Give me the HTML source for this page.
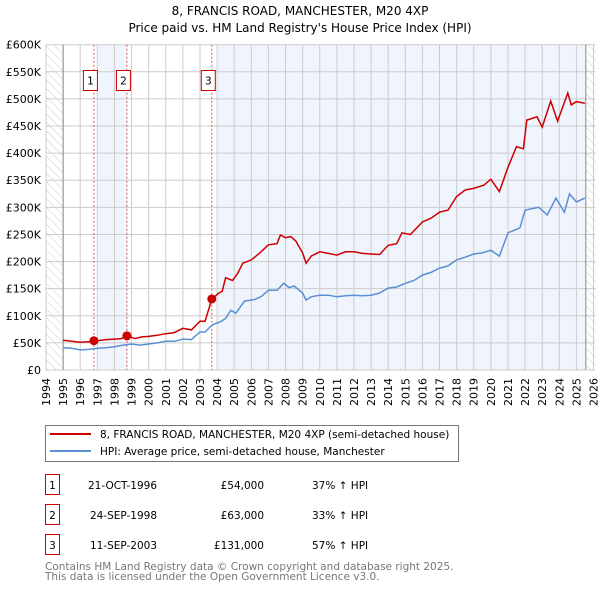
<!DOCTYPE html>
<html><head><meta charset="utf-8">
<style>
html,body{margin:0;padding:0;background:#fff;}
body{width:600px;height:590px;overflow:hidden;font-family:"DejaVu Sans","Liberation Sans",sans-serif;}
svg text{font-family:"DejaVu Sans","Liberation Sans",sans-serif;}
</style></head>
<body>
<svg id="chart" width="600" height="590" viewBox="0 0 600 590" xmlns="http://www.w3.org/2000/svg">
<defs>
<pattern id="hatch" patternUnits="userSpaceOnUse" width="6" height="6" patternTransform="rotate(-45)">
<line x1="0" y1="0" x2="0" y2="6" stroke="#ccc" stroke-width="1"/>
</pattern>
</defs>
<text x="300" y="15" text-anchor="middle" font-size="12" fill="#000">8, FRANCIS ROAD, MANCHESTER, M20 4XP</text>
<text x="300" y="32" text-anchor="middle" font-size="12" fill="#000">Price paid vs. HM Land Registry's House Price Index (HPI)</text>
<g id="plot"></g>
<g id="legend">
<rect x="45.5" y="425.5" width="413" height="36" fill="#fff" stroke="#777"/>
<line x1="50" y1="434" x2="91" y2="434" stroke="#cc0000" stroke-width="2"/>
<text x="100" y="438" font-size="10.5" fill="#000">8, FRANCIS ROAD, MANCHESTER, M20 4XP (semi-detached house)</text>
<line x1="50" y1="451" x2="91" y2="451" stroke="#5b8fd4" stroke-width="2"/>
<text x="100" y="455" font-size="10.5" fill="#000">HPI: Average price, semi-detached house, Manchester</text>
</g>
<g id="table" font-size="10.5" fill="#000"></g>
<text x="45" y="570" font-size="10.5" fill="#777">Contains HM Land Registry data © Crown copyright and database right 2025.</text>
<text x="45" y="580" font-size="10.5" fill="#777">This data is licensed under the Open Government Licence v3.0.</text>
</svg>
<script>
const yearTicks=[1994,1995,1996,1997,1998,1999,2000,2001,2002,2003,2004,2005,2006,2007,2008,2009,2010,2011,2012,2013,2014,2015,2016,2017,2018,2019,2020,2021,2022,2023,2024,2025,2026];
const valueTicks=[0,50,100,150,200,250,300,350,400,450,500,550,600];
const valueLabels=["£0","£50K","£100K","£150K","£200K","£250K","£300K","£350K","£400K","£450K","£500K","£550K","£600K"];
const redYears=[1995,1995.5,1996,1996.5,1996.8,1997,1997.5,1998,1998.4,1998.73,1999.2,1999.6,2000,2000.5,2001,2001.5,2002,2002.5,2003,2003.3,2003.69,2004.1,2004.3,2004.5,2004.9,2005.2,2005.5,2006,2006.5,2007,2007.5,2007.7,2008,2008.3,2008.6,2009,2009.2,2009.5,2010,2010.5,2011,2011.5,2012,2012.5,2013,2013.5,2014,2014.5,2014.8,2015.3,2016,2016.5,2017,2017.5,2018,2018.5,2019,2019.6,2020,2020.5,2021,2021.5,2021.9,2022.1,2022.7,2023,2023.5,2023.9,2024.5,2024.7,2025,2025.5];
const redValues=[55,53,51,52,54,54,56,57,58,63,58,61,62,64,67,69,77,74,90,90,131,142,145,170,165,178,197,203,216,231,233,249,244,246,238,216,197,210,218,215,212,218,218,215,214,213,230,233,253,250,273,280,291,295,320,332,335,341,352,329,374,412,408,461,467,448,496,459,511,489,495,492];
const blueYears=[1995,1995.5,1996,1996.5,1997,1997.5,1998,1998.5,1999,1999.5,2000,2000.5,2001,2001.5,2002,2002.5,2003,2003.3,2003.7,2004.2,2004.5,2004.8,2005.1,2005.6,2006.2,2006.6,2007,2007.5,2007.9,2008.2,2008.5,2009,2009.2,2009.5,2010,2010.5,2011,2011.5,2012,2012.5,2013,2013.5,2014,2014.5,2015,2015.5,2016,2016.5,2017,2017.5,2018,2018.5,2019,2019.5,2020,2020.5,2021,2021.7,2022,2022.8,2023.3,2023.8,2024.3,2024.6,2025,2025.5];
const blueValues=[41,40,37,38,40,41,43,46,48,46,48,50,53,53,57,56,70,70,83,89,95,110,105,127,130,136,147,147,160,152,155,142,129,135,138,138,135,137,138,137,138,142,151,153,160,165,175,180,188,192,203,208,214,216,221,210,253,262,295,300,286,317,291,325,310,317];
const saleLabels=["1","2","3"];
const saleYears=[1996.8,1998.73,2003.69];
const saleValues=[54,63,131];
const saleDates=["21-OCT-1996","24-SEP-1998","11-SEP-2003"];
const salePrices=["£54,000","£63,000","£131,000"];
const salePcts=["37% ↑ HPI","33% ↑ HPI","57% ↑ HPI"];

const NS="http://www.w3.org/2000/svg";
const X0=46,X1=593.5,Y0=370,Y1=44.7,YR0=1994,YR1=2026,VMAX=600;
function xs(y){return X0+(y-YR0)*(X1-X0)/(YR1-YR0);}
function ys(v){return Y0-v*(Y0-Y1)/VMAX;}
function mk(tag,attrs,parent){const e=document.createElementNS(NS,tag);for(const k in attrs)e.setAttribute(k,attrs[k]);parent.appendChild(e);return e;}
const plot=document.getElementById('plot');
const dataEnd=2025.55;
let bg=mk('rect',{x:X0,y:Y1,width:X1+2-X0,height:Y0-Y1,fill:'#fff'},plot);


const shadeStarts=[saleYears[0]+0.25,saleYears[2]+0.35];
const shadeEnds=[saleYears[1],dataEnd];
for(let i=0;i<2;i++){
 const r=mk('rect',{x:xs(shadeStarts[i]),y:Y1,width:xs(shadeEnds[i])-xs(shadeStarts[i]),height:Y0-Y1,fill:'#f0f4fd'},plot);
 
 
}
let h1=mk('rect',{x:X0,y:Y1,width:xs(1995)-X0,height:Y0-Y1,fill:'url(#hatch)'},plot);


let h2=mk('rect',{x:xs(dataEnd),y:Y1,width:X1+2-xs(dataEnd),height:Y0-Y1,fill:'url(#hatch)'},plot);


yearTicks.forEach(y=>{const l=mk('line',{x1:xs(y),x2:xs(y),y1:Y1,y2:Y0,stroke:'#ccc','stroke-width':1},plot);
 
 
 const t=mk('text',{x:0,y:0,transform:`translate(${xs(y)+4},${Y0+8}) rotate(-90)`,'text-anchor':'end','font-size':11,fill:'#000'},plot);
 t.textContent=y;
 
 
});
valueTicks.forEach((v,i)=>{const l=mk('line',{x1:X0,x2:X1+2,y1:ys(v),y2:ys(v),stroke:'#ccc','stroke-width':1},plot);
 
 
 const t=mk('text',{x:41,y:ys(v)+4,'text-anchor':'end','font-size':11,fill:'#000'},plot);
 t.textContent=valueLabels[i];
 
 
});
let ax=mk('line',{x1:xs(1995),x2:xs(1995),y1:Y1,y2:Y0,stroke:'#888'},plot);


let ax2=mk('line',{x1:xs(dataEnd),x2:xs(dataEnd),y1:Y1,y2:Y0,stroke:'#888'},plot);


saleYears.forEach((y,i)=>{
 const l=mk('line',{x1:xs(y),x2:xs(y),y1:Y1,y2:Y0,stroke:'#e05050','stroke-width':1,'stroke-dasharray':'2,2'},plot);
 
 
 const b=mk('rect',{x:xs(y)-10.5,y:70.5,width:14,height:20,fill:'#fff',stroke:'#cc0000'},plot);
 
 
 const t=mk('text',{x:xs(y)-3.5,y:84.5,'text-anchor':'middle','font-size':10.5,fill:'#000'},plot);
 t.textContent=saleLabels[i];
 
 
});
function path(xa,va){return xa.map((x,i)=>(i?'L':'M')+xs(x).toFixed(1)+','+ys(va[i]).toFixed(1)).join(' ');}
let bl=mk('path',{d:path(blueYears,blueValues),fill:'none',stroke:'#5b8fd4','stroke-width':1.5},plot);


let rl=mk('path',{d:path(redYears,redValues),fill:'none',stroke:'#cc0000','stroke-width':1.5},plot);


saleYears.forEach((y,i)=>{const c=mk('circle',{cx:xs(y),cy:ys(saleValues[i]),r:4.5,fill:'#cc0000'},plot);
 
 
});
const tb=document.getElementById('table');
[485,515,545].forEach((yy,i)=>{
 const b=mk('rect',{x:45.5,y:yy-10.5,width:14,height:20,fill:'#fff',stroke:'#cc0000'},tb);
 
 
 const n=mk('text',{x:52.5,y:yy+4,'text-anchor':'middle'},tb);n.textContent=saleLabels[i];
 
 
 const d=mk('text',{x:157,y:yy+4,'text-anchor':'end'},tb);d.textContent=saleDates[i];
 
 
 const p=mk('text',{x:264,y:yy+4,'text-anchor':'end'},tb);p.textContent=salePrices[i];
 
 
 const q=mk('text',{x:312,y:yy+4},tb);q.textContent=salePcts[i];
 
 
});
</script>
</body></html>
